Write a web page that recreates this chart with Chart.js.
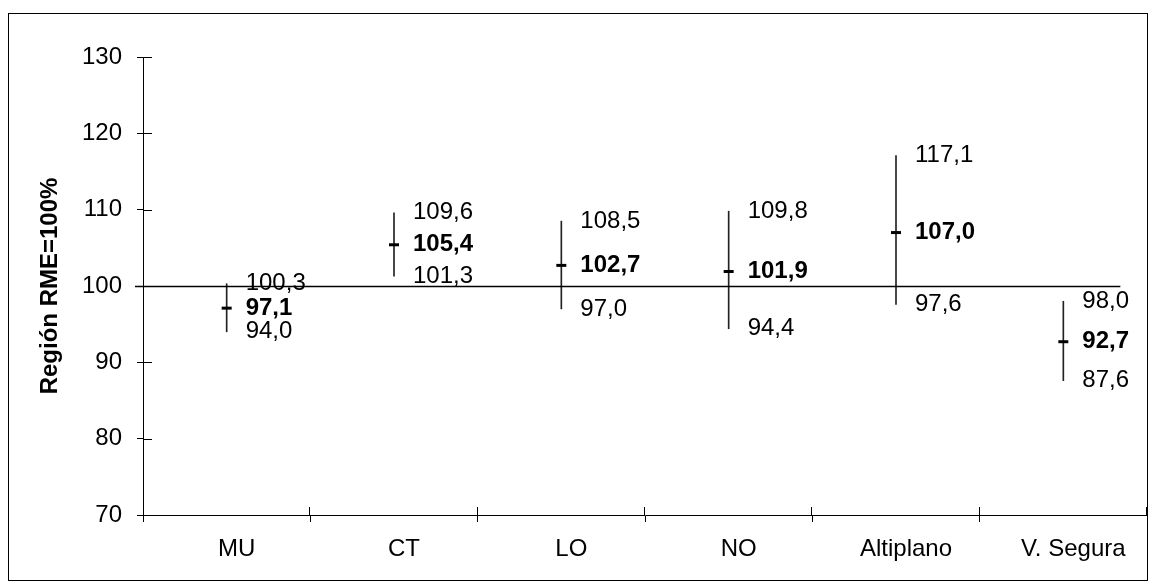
<!DOCTYPE html>
<html lang="es">
    <head>
        <meta charset="UTF-8">
        <title>Región RME=100%</title>
        <script src="https://cdn.jsdelivr.net/npm/chart.js"></script>
        <style>
            body, html {
                margin: 0;
                padding: 0;
                background: #fff;
            }
            #chartContainer {
                width: 1155px;
                height: 588px;
            }
        </style>
    </head>
    <body>
        <div id="chartContainer">
            <canvas id="rmeChart"></canvas>
        </div>

        <script>
            // values
            const categories = ['MU', 'CT', 'LO', 'NO', 'Altiplano', 'V. Segura'];
            const lowValues  = [94.0, 101.3, 97.0, 94.4, 97.6, 87.6];
            const meanValues = [97.1, 105.4, 102.7, 101.9, 107.0, 92.7];
            const highValues = [100.3, 109.6, 108.5, 109.8, 117.1, 98.0];
            const referenceValue = 100;
            const yTicks = [70, 80, 90, 100, 110, 120, 130];

            const FONT = 'Arial, "Liberation Sans", sans-serif';
            const fmt = v => v.toFixed(1).replace('.', ',');

            // outer frame + tick marks on the inner side of the axes
            const framePlugin = {
                id: 'frame',
                beforeDraw(chart) {
                    const ctx = chart.ctx;
                    ctx.save();
                    ctx.fillStyle = '#fff';
                    ctx.fillRect(0, 0, chart.width, chart.height);
                    ctx.strokeStyle = '#000';
                    ctx.lineWidth = 1;
                    ctx.strokeRect(8.5, 13.5, 1139, 567);
                    ctx.restore();
                },
                afterDraw(chart) {
                    const ctx = chart.ctx;
                    const x = chart.scales.x;
                    const y = chart.scales.y;
                    ctx.save();
                    ctx.strokeStyle = '#000';
                    ctx.lineWidth = 1;
                    ctx.beginPath();
                    y.ticks.forEach(t => {
                        const py = Math.round(y.getPixelForValue(t.value)) + 0.5;
                        ctx.moveTo(x.left, py);
                        ctx.lineTo(x.left + 9, py);
                    });
                    for (let i = 1; i <= categories.length; i++) {
                        const px = i < categories.length
                            ? (x.getPixelForValue(i - 1) + x.getPixelForValue(i)) / 2
                            : x.right;
                        const rx = Math.round(px) - 0.5;
                        ctx.moveTo(rx, y.bottom);
                        ctx.lineTo(rx, y.bottom - 8);
                    }
                    ctx.stroke();
                    ctx.restore();
                }
            };

            // horizontal line at 100 and the value labels
            const labelsPlugin = {
                id: 'valueLabels',
                afterDatasetsDraw(chart) {
                    const ctx = chart.ctx;
                    const x = chart.scales.x;
                    const y = chart.scales.y;
                    ctx.save();

                    const yRef = Math.round(y.getPixelForValue(referenceValue)) + 0.5;
                    ctx.strokeStyle = '#000';
                    ctx.lineWidth = 1.5;
                    ctx.beginPath();
                    ctx.moveTo(x.left - 8, yRef);
                    ctx.lineTo(x.getPixelForValue(categories.length - 1) + 57, yRef);
                    ctx.stroke();

                    ctx.fillStyle = '#000';
                    ctx.textAlign = 'left';
                    ctx.textBaseline = 'middle';
                    categories.forEach((c, i) => {
                        const px = x.getPixelForValue(i) + 19;
                        ctx.font = '24px ' + FONT;
                        ctx.fillText(fmt(highValues[i]), px, y.getPixelForValue(highValues[i]));
                        ctx.fillText(fmt(lowValues[i]), px, y.getPixelForValue(lowValues[i]));
                        ctx.font = 'bold 24px ' + FONT;
                        ctx.fillText(fmt(meanValues[i]), px, y.getPixelForValue(meanValues[i]));
                    });
                    ctx.restore();
                }
            };

            const ctx = document.getElementById('rmeChart').getContext('2d');
            new Chart(ctx, {
                data: {
                    labels: categories,
                    datasets: [
                        {
                            type: 'bar',
                            data: categories.map((c, i) => [lowValues[i], highValues[i]]),
                            backgroundColor: '#222',
                            borderWidth: 0,
                            barThickness: 1,
                            order: 2
                        },
                        {
                            type: 'line',
                            data: meanValues,
                            showLine: false,
                            pointStyle: 'line',
                            pointRadius: 5,
                            pointBorderWidth: 3,
                            borderColor: '#000',
                            backgroundColor: '#000',
                            order: 1
                        }
                    ]
                },
                options: {
                    responsive: true,
                    maintainAspectRatio: false,
                    animation: false,
                    events: [],
                    layout: {
                        padding: { top: 57, right: 8, left: 0, bottom: 0 }
                    },
                    plugins: {
                        legend: { display: false },
                        tooltip: { enabled: false }
                    },
                    scales: {
                        x: {
                            type: 'category',
                            offset: true,
                            border: { display: true, color: '#000', width: 1 },
                            grid: {
                                offset: true,
                                drawOnChartArea: false,
                                drawTicks: true,
                                tickLength: 7,
                                color: '#000'
                            },
                            ticks: {
                                color: '#000',
                                padding: 13,
                                labelOffset: 10,
                                font: { family: FONT, size: 24 }
                            },
                            afterFit(scale) { scale.height = 73; }
                        },
                        y: {
                            min: 70,
                            max: 130,
                            afterBuildTicks(scale) {
                                scale.ticks = yTicks.map(v => ({ value: v }));
                            },
                            border: { display: true, color: '#000', width: 1 },
                            grid: {
                                drawOnChartArea: false,
                                drawTicks: true,
                                tickLength: 6,
                                color: '#000'
                            },
                            ticks: {
                                color: '#000',
                                padding: 15,
                                font: { family: FONT, size: 24 }
                            },
                            title: {
                                display: true,
                                text: 'Región RME=100%',
                                color: '#000',
                                font: { family: FONT, size: 24, weight: 'bold' },
                                padding: { top: 36, bottom: 0 }
                            },
                            afterFit(scale) { scale.width = 143; }
                        }
                    }
                },
                plugins: [framePlugin, labelsPlugin]
            });
        </script>
    </body>
</html>
